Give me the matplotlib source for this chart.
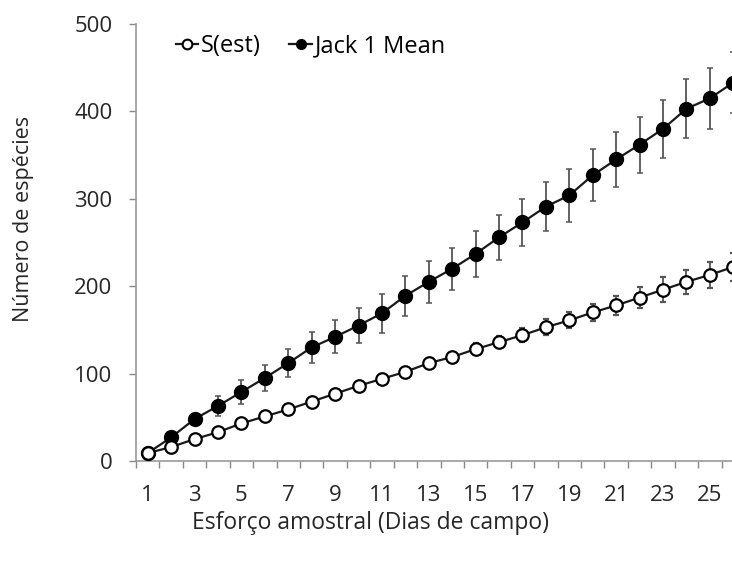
import numpy as np
import matplotlib.pyplot as plt
from matplotlib.lines import Line2D

plt.rcParams['font.family'] = ['Open Sans', 'DejaVu Sans']

days = np.arange(1, 27)
s_est = [9, 16, 25, 33, 43, 51, 59, 68, 77, 86, 94, 102, 112, 119, 128, 136,
         144, 153, 161, 170, 178, 187, 196, 205, 213, 222]
s_err = [0, 1, 1, 2, 2, 3, 3, 4, 4, 5, 5, 5, 6, 6, 7, 7, 8, 9, 9, 10, 11, 12,
         14, 14, 15, 16]
jack1 = [9, 27, 48, 63, 79, 95, 112, 130, 142, 155, 169, 189, 205, 220, 237,
         256, 273, 291, 304, 327, 345, 362, 380, 403, 415, 433]
jack1_err = [0, 3, 6, 11, 14, 15, 16, 18, 19, 20, 22, 23, 24, 24, 26, 26, 27,
             28, 30, 30, 32, 32, 33, 34, 35, 35]
xtick_labels = [str(d) for d in range(1, 26, 2)]

txt = '#262626'
fig = plt.figure(figsize=(7.32, 5.61), dpi=100)
ax = fig.add_axes([136 / 732, 100 / 561, 609 / 732, 437 / 561])

ax.errorbar(days, jack1, yerr=jack1_err, color='#1a1a1a', ecolor='#555555',
            elinewidth=1.3, capsize=2, capthick=1.1, marker='o', markersize=10,
            markerfacecolor='black', markeredgecolor='black', linewidth=1.6,
            zorder=3)
ax.errorbar(days, s_est, yerr=s_err, color='#1a1a1a', ecolor='#555555',
            elinewidth=1.3, capsize=2, capthick=1.1, marker='o', markersize=9,
            markerfacecolor='white', markeredgecolor='black', markeredgewidth=1.6,
            linewidth=1.6, zorder=4)

ax.set_xlim(0.5, 26.5)
ax.set_ylim(0, 500)
ax.set_yticks(range(0, 501, 100))
ax.set_xticks(range(1, 26, 2), xtick_labels)
ax.set_xticks(np.arange(0.5, 27, 1), minor=True)
ax.tick_params(axis='x', which='major', length=0, pad=17, labelsize=16,
               colors=txt)
ax.tick_params(axis='x', which='minor', length=5, width=1, color='#888888',
               direction='out')
ax.tick_params(axis='y', length=5, width=1, color='#888888', pad=12,
               labelsize=16, labelcolor=txt)

for side in ['top', 'right']:
    ax.spines[side].set_visible(False)
for side in ['left', 'bottom']:
    ax.spines[side].set_color('#999999')
    ax.spines[side].set_linewidth(1.2)

ax.set_ylabel('Número de espécies', fontsize=15.5, color=txt)
ax.yaxis.set_label_coords((34 - 136) / 609, 0.554)
ax.set_xlabel('Esforço amostral (Dias de campo)', fontsize=16.5, color=txt,
              va='top')
ax.xaxis.set_label_coords((371 - 136) / 609, -(511 - 461) / 437)

handles = [
    Line2D([], [], color='#1a1a1a', lw=1.6, marker='o', markersize=7,
           markerfacecolor='white', markeredgecolor='black', markeredgewidth=1.5),
    Line2D([], [], color='#1a1a1a', lw=1.6, marker='o', markersize=7,
           markerfacecolor='black', markeredgecolor='black'),
]
fig.legend(handles, ['S(est)', 'Jack 1 Mean'], loc='upper left', ncol=2,
           frameon=False, fontsize=17, handlelength=0.95, handletextpad=0.12,
           columnspacing=1.2, borderpad=0, borderaxespad=0,
           bbox_to_anchor=(176 / 732, (561 - 34) / 561))

fig.savefig('out.png', dpi=100)
